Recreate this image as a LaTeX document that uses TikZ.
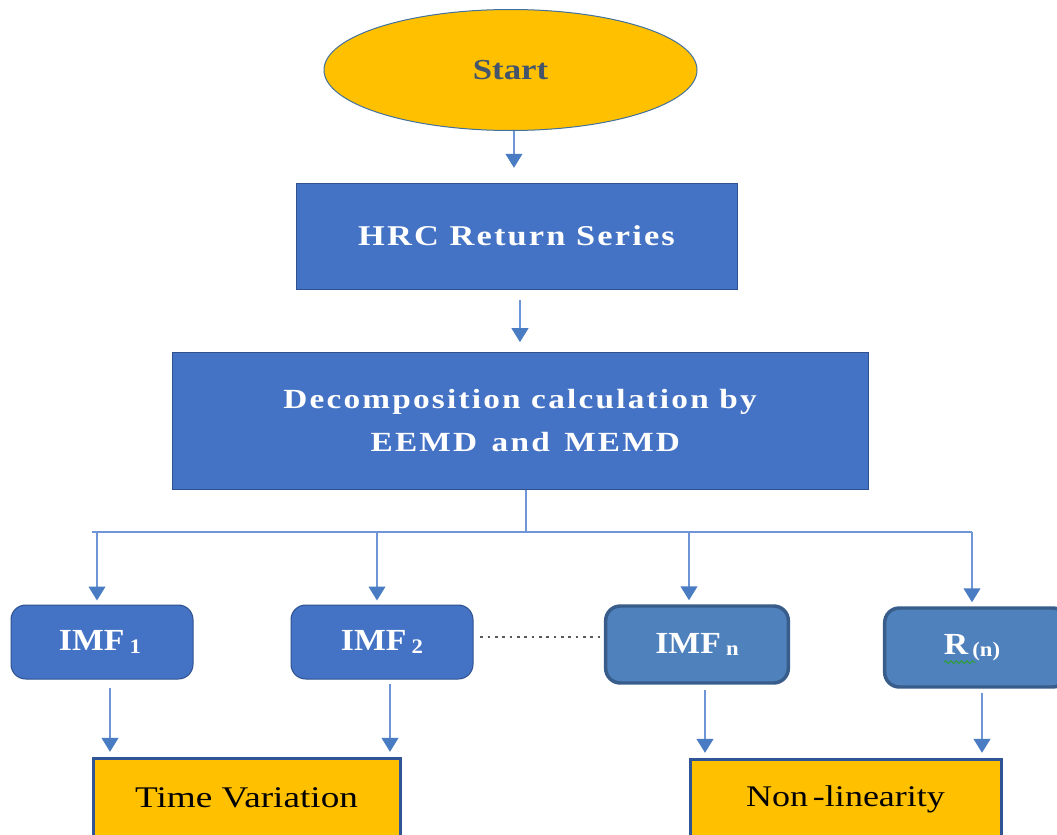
\documentclass[tikz,border=0pt]{standalone}
\usepackage{fontspec}
\setmainfont{Liberation Serif}
\newfontfamily\wfont[FakeStretch=1.2]{Liberation Serif}
\newfontfamily\tfont[FakeStretch=1.24]{Liberation Serif}
\newfontfamily\hfont[FakeStretch=1.2,LetterSpace=7.5]{Liberation Serif}
\newfontfamily\dfont[FakeStretch=1.2,LetterSpace=8]{Liberation Serif}
\newfontfamily\ifont[FakeStretch=1.1]{Liberation Serif}
\newfontfamily\nfont[FakeStretch=1.2]{Liberation Serif}
\usetikzlibrary{arrows.meta,shapes.geometric,decorations.pathmorphing}
\definecolor{boxblue}{HTML}{4472C4}
\definecolor{boxedge}{HTML}{2F528F}
\definecolor{midblue}{HTML}{4F81BD}
\definecolor{darkedge}{HTML}{385D8A}
\definecolor{gold}{HTML}{FFC000}
\definecolor{shaftblue}{HTML}{6E96D6}
\definecolor{tipblue}{HTML}{4A7CC4}
\definecolor{starttext}{HTML}{44546A}
\definecolor{ellipseedge}{HTML}{41719C}
\definecolor{goldedge}{HTML}{2F5597}
\definecolor{squig}{HTML}{2E9E3E}
\tikzset{
  bluebox/.style={rectangle, fill=boxblue, draw=boxedge, line width=0.75pt, text=white, inner sep=0pt, align=center},
  imfbox/.style={rectangle, rounded corners=11pt, fill=boxblue, draw=boxedge, line width=0.75pt, text=white, inner sep=0pt, minimum width=136.5pt, minimum height=55.5pt, font=\ifont\bfseries\fontsize{23}{26}\selectfont},
  imfbold/.style={rectangle, rounded corners=11pt, fill=midblue, draw=darkedge, line width=2.6pt, text=white, inner sep=0pt, minimum width=137pt, font=\ifont\bfseries\fontsize{23}{26}\selectfont},
  goldbox/.style={rectangle, fill=gold, draw=goldedge, line width=2.25pt, text=black, inner sep=0pt, minimum height=60pt},
  arr/.style={draw=shaftblue, line width=1.6pt, -{Triangle[width=12.5pt,length=10.5pt,fill=tipblue,color=tipblue]}},
  conn/.style={draw=shaftblue, line width=1.5pt},
  dotline/.style={draw=black!65, line width=0.9pt, dash pattern=on 2pt off 3.5pt},
}
\newcommand{\subtxt}[1]{\,{\fontsize{15.5}{15}\selectfont\raisebox{-1.6pt}{#1}}}
\begin{document}
\begin{tikzpicture}[x=0.75pt,y=-0.75pt]
\useasboundingbox (0,0) rectangle (1057,835);
\fill[white] (0,0) rectangle (1057,835);

\node[ellipse, fill=gold, draw=ellipseedge, line width=0.75pt, minimum width=279.75pt, minimum height=90.75pt, inner sep=0pt, text=starttext, font=\wfont\bfseries\fontsize{21.75}{26}\selectfont] (start) at (510.5,70) {Start};

\node[bluebox, minimum width=330.75pt, minimum height=79.5pt, font=\hfont\bfseries\fontsize{21.5}{26}\selectfont] (hrc) at (516.5,236) {HRC Return Series};

\node[bluebox, minimum width=522pt, minimum height=102.75pt, font=\dfont\bfseries\fontsize{20.8}{32}\selectfont] (dec) at (520,420.5) {Decomposition calculation by\\ \hspace*{8pt}EEMD\hspace{3pt} and\hspace{3pt} MEMD};

\node[imfbox] (imf1) at (102,642) {IMF\subtxt{1}\hspace*{3pt}};
\node[imfbox] (imf2) at (382,642) {IMF\subtxt{2}};
\node[imfbold, minimum height=57.75pt] (imfn) at (697,644.5) {IMF\subtxt{n}};
\node[imfbold, minimum height=59.25pt] (rn) at (976,647.5) {R\hspace{3pt}{\fontsize{15.5}{15}\selectfont\raisebox{-1.8pt}{(n)}}\hspace*{6pt}};

\node[goldbox, minimum width=230.25pt, font=\tfont\fontsize{22.5}{26}\selectfont] (tv) at (246.5,798) {Time Variation};
\node[goldbox, minimum width=233.25pt, font=\nfont\fontsize{22.5}{26}\selectfont] (nl) at (845.5,799) {Non\,-linearity};

% green spell-check squiggle under R
\draw[squig, line width=0.8pt, decorate, decoration={snake, amplitude=1.1pt, segment length=4pt}]
  ([xshift=-24pt,yshift=-11pt]rn.center) -- ([xshift=0pt,yshift=-11pt]rn.center);

% arrows
\draw[arr, shorten >=11pt] ([xshift=2.6pt]start.south) -- ([xshift=2.6pt]start.south |- hrc.north);
\draw[arr, shorten <=8pt, shorten >=7pt] ([xshift=2.6pt]hrc.south) -- ([xshift=2.6pt]hrc.south |- dec.north);

\coordinate (busl) at (97,532);
\coordinate (busr) at (972,532);
\draw[conn] ([xshift=4.5pt]dec.south) -- ([xshift=4.5pt]dec.south |- busl);
\draw[conn] ([xshift=-3.5pt]busl) -- (busr);

\draw[arr, shorten >=3pt] (busl) -- (busl |- imf1.north);
\draw[arr, shorten >=3pt] ([xshift=-3.75pt]imf2.north |- busl) -- ([xshift=-3.75pt]imf2.north);
\draw[arr, shorten >=3pt] ([xshift=-6pt]imfn.north |- busl) -- ([xshift=-6pt]imfn.north);
\draw[arr, shorten >=3pt] (busr) -- (busr |- rn.north);

\draw[arr, shorten <=6pt, shorten >=3.5pt] ([xshift=6pt]imf1.south) -- ([xshift=6pt]imf1.south |- tv.north);
\draw[arr, shorten <=3pt, shorten >=3.5pt] ([xshift=6pt]imf2.south) -- ([xshift=6pt]imf2.south |- tv.north);
\draw[arr, shorten <=4pt, shorten >=3.5pt] ([xshift=6pt]imfn.south) -- ([xshift=6pt]imfn.south |- nl.north);
\draw[arr, shorten <=3pt, shorten >=3.5pt] ([xshift=4.5pt]rn.south) -- ([xshift=4.5pt]rn.south |- nl.north);

\draw[dotline] ([xshift=5pt,yshift=3.75pt]imf2.east) -- ([xshift=-3pt,yshift=3.75pt]imf2.east -| imfn.west);
\end{tikzpicture}
\end{document}
